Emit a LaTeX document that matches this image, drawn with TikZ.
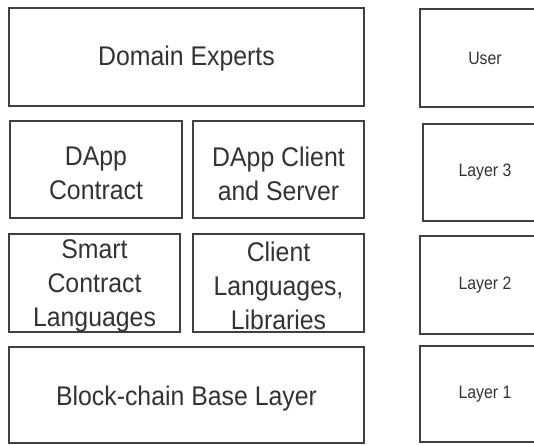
\documentclass[tikz,border=0pt]{standalone}
\usepackage{fontspec}
\setmainfont{Liberation Sans}[FakeStretch=0.92]
\newfontfamily\sidefont{Liberation Sans}[FakeStretch=0.88]
\definecolor{txt}{HTML}{333333}
\definecolor{edge}{HTML}{404040}
\begin{document}
\begin{tikzpicture}[x=1pt,y=-1pt,
  box/.style={draw=edge, line width=1.4pt, rectangle, inner sep=0pt, outer sep=0pt},
  lbl/.style={text=txt, align=center, inner sep=0pt, font=\fontsize{27}{34}\selectfont},
  sidelbl/.style={text=txt, align=center, inner sep=0pt, font=\sidefont\fontsize{18}{21}\selectfont}]
\useasboundingbox (0,0) rectangle (534,444);
\clip (0,0) rectangle (534,444);
% left column boxes
\node[box, minimum width=355, minimum height=98] (domain) at (186.5,57) {};
\node[box, minimum width=172, minimum height=97] (dcontract) at (96,169.5) {};
\node[box, minimum width=171, minimum height=97] (dclient) at (278.5,169.5) {};
\node[box, minimum width=171, minimum height=98] (sclang) at (94.5,283) {};
\node[box, minimum width=171, minimum height=98] (clang) at (278.5,283) {};
\node[box, minimum width=355, minimum height=96] (base) at (186.5,395) {};
% right column boxes
\node[box, minimum width=130, minimum height=98] (user) at (485,58) {};
\node[box, minimum width=128, minimum height=97] (l3) at (487,172.5) {};
\node[box, minimum width=130, minimum height=98] (l2) at (485,285) {};
\node[box, minimum width=130, minimum height=96] (l1) at (485,394) {};
% labels
\node[lbl] (tdomain) at ([yshift=-2pt]domain.center) {Domain Experts};
\node[lbl] (tdcontract) at ([yshift=-4pt]dcontract.center) {DApp\\Contract};
\node[lbl] (tdclient) at ([yshift=-4pt]dclient.center) {DApp Client\\and Server};
\node[lbl] (tsclang) at ([yshift=-3pt]sclang.center) {Smart\\Contract\\Languages};
\node[lbl] (tclang) at ([yshift=-3pt]clang.center) {Client\\Languages,\\Libraries};
\node[lbl] (tbase) at ([yshift=-4pt]base.center) {Block-chain Base Layer};
\node[sidelbl] (tuser) at (user.center) {User};
\node[sidelbl] (tl3) at ([xshift=-2pt]l3.center) {Layer 3};
\node[sidelbl] (tl2) at (l2.center) {Layer 2};
\node[sidelbl] (tl1) at (l1.center) {Layer 1};
\end{tikzpicture}
\end{document}
